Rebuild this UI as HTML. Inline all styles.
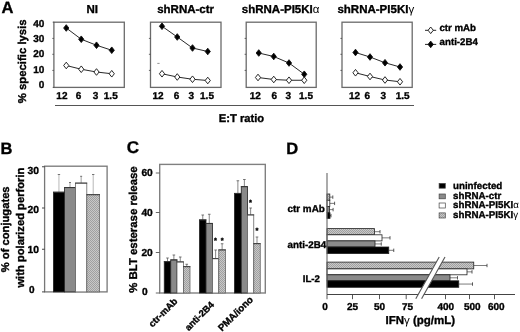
<!DOCTYPE html><html><head><meta charset="utf-8"><title>Figure</title>
<style>html,body{margin:0;padding:0;background:#fff;}svg{display:block;}text{font-family:"Liberation Sans", sans-serif;font-weight:bold;text-rendering:geometricPrecision;fill:#000;stroke:#000;stroke-width:0.35px;}.g{font-weight:normal;stroke:none;}</style></head><body>
<svg width="520" height="332" viewBox="0 0 520 332">
<defs><pattern id="h" width="2" height="2" patternUnits="userSpaceOnUse"><rect width="2" height="2" fill="#c8c8c8"/><rect width="1" height="1" fill="#a0a0a0"/><rect x="1" y="1" width="1" height="1" fill="#a0a0a0"/></pattern></defs>
<rect width="520" height="332" fill="#fff"/>
<text x="1.50" y="13.40" font-size="16.50" text-anchor="start" >A</text>
<text x="0.50" y="154.30" font-size="16.50" text-anchor="start" >B</text>
<text x="126.80" y="153.20" font-size="17.00" text-anchor="start" >C</text>
<text x="286.20" y="153.80" font-size="16.50" text-anchor="start" >D</text>
<rect x="53.90" y="22.20" width="70.40" height="65.20" fill="#fff" stroke="#6a6a6a" stroke-width="1.30"/>
<line x1="52.30" y1="38.40" x2="53.90" y2="38.40" stroke="#444" stroke-width="0.80"/>
<line x1="52.30" y1="54.30" x2="53.90" y2="54.30" stroke="#444" stroke-width="0.80"/>
<line x1="52.30" y1="70.40" x2="53.90" y2="70.40" stroke="#444" stroke-width="0.80"/>
<polyline points="66.25,28.00 81.25,39.25 96.50,45.25 111.75,50.25" fill="none" stroke="#111" stroke-width="0.9"/>
<polygon points="63.65,28.00 66.25,24.70 68.85,28.00 66.25,31.30" fill="#000" stroke="#111" stroke-width="0.9"/>
<polygon points="78.65,39.25 81.25,35.95 83.85,39.25 81.25,42.55" fill="#000" stroke="#111" stroke-width="0.9"/>
<polygon points="93.90,45.25 96.50,41.95 99.10,45.25 96.50,48.55" fill="#000" stroke="#111" stroke-width="0.9"/>
<polygon points="109.15,50.25 111.75,46.95 114.35,50.25 111.75,53.55" fill="#000" stroke="#111" stroke-width="0.9"/>
<polyline points="66.25,65.50 81.25,69.25 96.50,72.00 111.75,73.75" fill="none" stroke="#111" stroke-width="0.9"/>
<polygon points="63.65,65.50 66.25,62.20 68.85,65.50 66.25,68.80" fill="#fff" stroke="#111" stroke-width="0.9"/>
<polygon points="78.65,69.25 81.25,65.95 83.85,69.25 81.25,72.55" fill="#fff" stroke="#111" stroke-width="0.9"/>
<polygon points="93.90,72.00 96.50,68.70 99.10,72.00 96.50,75.30" fill="#fff" stroke="#111" stroke-width="0.9"/>
<polygon points="109.15,73.75 111.75,70.45 114.35,73.75 111.75,77.05" fill="#fff" stroke="#111" stroke-width="0.9"/>
<text x="92.20" y="12.60" font-size="11.50" text-anchor="middle" >NI</text>
<text x="61.90" y="99.40" font-size="10.00" text-anchor="middle" >12</text>
<text x="78.60" y="99.40" font-size="10.00" text-anchor="middle" >6</text>
<text x="95.60" y="99.40" font-size="10.00" text-anchor="middle" >3</text>
<text x="110.75" y="99.40" font-size="10.00" text-anchor="middle" >1.5</text>
<rect x="150.50" y="22.20" width="70.50" height="65.20" fill="#fff" stroke="#6a6a6a" stroke-width="1.30"/>
<line x1="148.90" y1="38.40" x2="150.50" y2="38.40" stroke="#444" stroke-width="0.80"/>
<line x1="148.90" y1="54.30" x2="150.50" y2="54.30" stroke="#444" stroke-width="0.80"/>
<line x1="148.90" y1="70.40" x2="150.50" y2="70.40" stroke="#444" stroke-width="0.80"/>
<polyline points="162.00,26.25 177.25,37.00 192.50,48.00 207.75,51.50" fill="none" stroke="#111" stroke-width="0.9"/>
<polygon points="159.40,26.25 162.00,22.95 164.60,26.25 162.00,29.55" fill="#000" stroke="#111" stroke-width="0.9"/>
<polygon points="174.65,37.00 177.25,33.70 179.85,37.00 177.25,40.30" fill="#000" stroke="#111" stroke-width="0.9"/>
<polygon points="189.90,48.00 192.50,44.70 195.10,48.00 192.50,51.30" fill="#000" stroke="#111" stroke-width="0.9"/>
<polygon points="205.15,51.50 207.75,48.20 210.35,51.50 207.75,54.80" fill="#000" stroke="#111" stroke-width="0.9"/>
<polyline points="162.00,73.75 177.25,77.00 192.50,79.25 207.75,80.50" fill="none" stroke="#111" stroke-width="0.9"/>
<polygon points="159.40,73.75 162.00,70.45 164.60,73.75 162.00,77.05" fill="#fff" stroke="#111" stroke-width="0.9"/>
<polygon points="174.65,77.00 177.25,73.70 179.85,77.00 177.25,80.30" fill="#fff" stroke="#111" stroke-width="0.9"/>
<polygon points="189.90,79.25 192.50,75.95 195.10,79.25 192.50,82.55" fill="#fff" stroke="#111" stroke-width="0.9"/>
<polygon points="205.15,80.50 207.75,77.20 210.35,80.50 207.75,83.80" fill="#fff" stroke="#111" stroke-width="0.9"/>
<text x="185.60" y="12.60" font-size="11.50" text-anchor="middle" >shRNA-ctr</text>
<text x="158.00" y="99.40" font-size="10.00" text-anchor="middle" >12</text>
<text x="176.50" y="99.40" font-size="10.00" text-anchor="middle" >6</text>
<text x="191.20" y="99.40" font-size="10.00" text-anchor="middle" >3</text>
<text x="207.00" y="99.40" font-size="10.00" text-anchor="middle" >1.5</text>
<rect x="246.20" y="22.20" width="70.00" height="65.20" fill="#fff" stroke="#6a6a6a" stroke-width="1.30"/>
<line x1="244.60" y1="38.40" x2="246.20" y2="38.40" stroke="#444" stroke-width="0.80"/>
<line x1="244.60" y1="54.30" x2="246.20" y2="54.30" stroke="#444" stroke-width="0.80"/>
<line x1="244.60" y1="70.40" x2="246.20" y2="70.40" stroke="#444" stroke-width="0.80"/>
<polyline points="258.75,53.00 273.75,56.50 289.00,63.00 304.25,74.25" fill="none" stroke="#111" stroke-width="0.9"/>
<polygon points="256.15,53.00 258.75,49.70 261.35,53.00 258.75,56.30" fill="#000" stroke="#111" stroke-width="0.9"/>
<polygon points="271.15,56.50 273.75,53.20 276.35,56.50 273.75,59.80" fill="#000" stroke="#111" stroke-width="0.9"/>
<polygon points="286.40,63.00 289.00,59.70 291.60,63.00 289.00,66.30" fill="#000" stroke="#111" stroke-width="0.9"/>
<polygon points="301.65,74.25 304.25,70.95 306.85,74.25 304.25,77.55" fill="#000" stroke="#111" stroke-width="0.9"/>
<polyline points="258.00,77.50 273.75,79.50 289.00,80.25 304.25,80.25" fill="none" stroke="#111" stroke-width="0.9"/>
<polygon points="255.40,77.50 258.00,74.20 260.60,77.50 258.00,80.80" fill="#fff" stroke="#111" stroke-width="0.9"/>
<polygon points="271.15,79.50 273.75,76.20 276.35,79.50 273.75,82.80" fill="#fff" stroke="#111" stroke-width="0.9"/>
<polygon points="286.40,80.25 289.00,76.95 291.60,80.25 289.00,83.55" fill="#fff" stroke="#111" stroke-width="0.9"/>
<polygon points="301.65,80.25 304.25,76.95 306.85,80.25 304.25,83.55" fill="#fff" stroke="#111" stroke-width="0.9"/>
<text x="280.60" y="12.60" font-size="11.50" text-anchor="middle" >shRNA-PI5KI<tspan class="g">&#945;</tspan></text>
<text x="255.30" y="99.40" font-size="10.00" text-anchor="middle" >12</text>
<text x="274.40" y="99.40" font-size="10.00" text-anchor="middle" >6</text>
<text x="288.40" y="99.40" font-size="10.00" text-anchor="middle" >3</text>
<text x="306.00" y="99.40" font-size="10.00" text-anchor="middle" >1.5</text>
<rect x="342.00" y="22.20" width="70.20" height="65.20" fill="#fff" stroke="#6a6a6a" stroke-width="1.30"/>
<line x1="340.40" y1="38.40" x2="342.00" y2="38.40" stroke="#444" stroke-width="0.80"/>
<line x1="340.40" y1="54.30" x2="342.00" y2="54.30" stroke="#444" stroke-width="0.80"/>
<line x1="340.40" y1="70.40" x2="342.00" y2="70.40" stroke="#444" stroke-width="0.80"/>
<polyline points="355.50,52.50 370.00,57.00 385.00,62.75 400.00,67.00" fill="none" stroke="#111" stroke-width="0.9"/>
<polygon points="352.90,52.50 355.50,49.20 358.10,52.50 355.50,55.80" fill="#000" stroke="#111" stroke-width="0.9"/>
<polygon points="367.40,57.00 370.00,53.70 372.60,57.00 370.00,60.30" fill="#000" stroke="#111" stroke-width="0.9"/>
<polygon points="382.40,62.75 385.00,59.45 387.60,62.75 385.00,66.05" fill="#000" stroke="#111" stroke-width="0.9"/>
<polygon points="397.40,67.00 400.00,63.70 402.60,67.00 400.00,70.30" fill="#000" stroke="#111" stroke-width="0.9"/>
<polyline points="355.50,72.75 370.00,76.50 385.00,80.00 400.00,81.75" fill="none" stroke="#111" stroke-width="0.9"/>
<polygon points="352.90,72.75 355.50,69.45 358.10,72.75 355.50,76.05" fill="#fff" stroke="#111" stroke-width="0.9"/>
<polygon points="367.40,76.50 370.00,73.20 372.60,76.50 370.00,79.80" fill="#fff" stroke="#111" stroke-width="0.9"/>
<polygon points="382.40,80.00 385.00,76.70 387.60,80.00 385.00,83.30" fill="#fff" stroke="#111" stroke-width="0.9"/>
<polygon points="397.40,81.75 400.00,78.45 402.60,81.75 400.00,85.05" fill="#fff" stroke="#111" stroke-width="0.9"/>
<text x="375.80" y="12.60" font-size="11.50" text-anchor="middle" >shRNA-PI5KI<tspan class="g">&#947;</tspan></text>
<text x="354.50" y="99.40" font-size="10.00" text-anchor="middle" >12</text>
<text x="367.40" y="99.40" font-size="10.00" text-anchor="middle" >6</text>
<text x="383.20" y="99.40" font-size="10.00" text-anchor="middle" >3</text>
<text x="402.70" y="99.40" font-size="10.00" text-anchor="middle" >1.5</text>
<line x1="52.70" y1="22.20" x2="54.30" y2="22.20" stroke="#444" stroke-width="0.80"/>
<line x1="52.70" y1="87.40" x2="54.30" y2="87.40" stroke="#444" stroke-width="0.80"/>
<line x1="157.30" y1="63.40" x2="159.60" y2="63.40" stroke="#777" stroke-width="0.80"/>
<text x="44.40" y="26.80" font-size="10.00" text-anchor="end" >40</text>
<text x="44.40" y="41.70" font-size="10.00" text-anchor="end" >30</text>
<text x="44.40" y="57.40" font-size="10.00" text-anchor="end" >20</text>
<text x="44.40" y="73.40" font-size="10.00" text-anchor="end" >10</text>
<text x="44.40" y="87.90" font-size="10.00" text-anchor="end" >0</text>
<text transform="translate(25.60 61.30) rotate(-90)" font-size="11.35" text-anchor="middle">% specific lysis</text>
<line x1="55.00" y1="105.50" x2="414.00" y2="105.50" stroke="#555" stroke-width="1.00"/>
<text x="218.80" y="121.60" font-size="11.20" text-anchor="start" >E:T ratio</text>
<line x1="425.00" y1="30.30" x2="436.20" y2="30.30" stroke="#111" stroke-width="0.90"/>
<polygon points="428.10,30.30 430.70,27.00 433.30,30.30 430.70,33.60" fill="#fff" stroke="#111" stroke-width="0.9"/>
<line x1="425.00" y1="44.40" x2="436.20" y2="44.40" stroke="#111" stroke-width="0.90"/>
<polygon points="428.10,44.40 430.70,41.10 433.30,44.40 430.70,47.70" fill="#000" stroke="#111" stroke-width="0.9"/>
<text x="439.40" y="31.40" font-size="9.70" text-anchor="start" >ctr mAb</text>
<text x="439.60" y="45.40" font-size="9.70" text-anchor="start" >anti-2B4</text>
<rect x="44.60" y="166.20" width="62.50" height="125.70" fill="#fff" stroke="#777" stroke-width="1.30"/>
<line x1="58.95" y1="174.50" x2="58.95" y2="192.20" stroke="#999" stroke-width="0.70"/>
<line x1="57.75" y1="174.50" x2="60.15" y2="174.50" stroke="#555" stroke-width="0.80"/>
<rect x="53.40" y="192.20" width="11.10" height="99.70" fill="#000" stroke="#222" stroke-width="0.80"/>
<line x1="53.00" y1="192.20" x2="64.90" y2="192.20" stroke="#333" stroke-width="0.90"/>
<line x1="70.00" y1="182.50" x2="70.00" y2="187.60" stroke="#777" stroke-width="0.70"/>
<line x1="69.00" y1="182.50" x2="71.00" y2="182.50" stroke="#555" stroke-width="0.80"/>
<rect x="64.50" y="187.60" width="11.00" height="104.30" fill="#8a8a8a" stroke="#222" stroke-width="0.80"/>
<line x1="64.10" y1="187.60" x2="75.90" y2="187.60" stroke="#333" stroke-width="0.90"/>
<line x1="81.15" y1="176.30" x2="81.15" y2="183.10" stroke="#777" stroke-width="0.70"/>
<line x1="80.15" y1="176.30" x2="82.15" y2="176.30" stroke="#555" stroke-width="0.80"/>
<rect x="75.50" y="183.10" width="11.30" height="108.80" fill="#fff" stroke="#666" stroke-width="0.80"/>
<line x1="75.10" y1="183.10" x2="87.20" y2="183.10" stroke="#333" stroke-width="0.90"/>
<line x1="93.20" y1="174.50" x2="93.20" y2="194.70" stroke="#999" stroke-width="0.70"/>
<line x1="92.00" y1="174.50" x2="94.40" y2="174.50" stroke="#555" stroke-width="0.80"/>
<rect x="86.80" y="194.70" width="12.80" height="97.20" fill="url(#h)" stroke="#666" stroke-width="0.80"/>
<line x1="86.40" y1="194.70" x2="100.00" y2="194.70" stroke="#333" stroke-width="0.90"/>
<line x1="42.00" y1="166.75" x2="44.60" y2="166.75" stroke="#333" stroke-width="0.90"/>
<line x1="42.00" y1="208.00" x2="44.60" y2="208.00" stroke="#333" stroke-width="0.90"/>
<line x1="42.00" y1="249.25" x2="44.60" y2="249.25" stroke="#333" stroke-width="0.90"/>
<line x1="42.00" y1="291.90" x2="44.60" y2="291.90" stroke="#333" stroke-width="0.90"/>
<text x="38.90" y="174.00" font-size="10.30" text-anchor="end" >30</text>
<text x="38.90" y="213.00" font-size="10.30" text-anchor="end" >20</text>
<text x="38.90" y="252.80" font-size="10.30" text-anchor="end" >10</text>
<text x="34.50" y="293.40" font-size="10.00" text-anchor="end" >0</text>
<text transform="translate(9.40 229.30) rotate(-90)" font-size="11.20" text-anchor="middle">% of conjugates</text>
<text transform="translate(23.60 227.60) rotate(-90)" font-size="11.20" text-anchor="middle">with polarized perforin</text>
<rect x="159.70" y="164.40" width="105.60" height="128.60" fill="#fff" stroke="#808080" stroke-width="1.40"/>
<line x1="167.50" y1="258.00" x2="167.50" y2="261.65" stroke="#555" stroke-width="0.70"/>
<line x1="166.20" y1="258.00" x2="168.80" y2="258.00" stroke="#555" stroke-width="0.80"/>
<rect x="164.25" y="261.65" width="6.50" height="31.35" fill="#000" stroke="#222" stroke-width="0.80"/>
<line x1="163.85" y1="261.65" x2="171.15" y2="261.65" stroke="#333" stroke-width="0.90"/>
<line x1="173.88" y1="255.00" x2="173.88" y2="259.90" stroke="#555" stroke-width="0.70"/>
<line x1="172.57" y1="255.00" x2="175.18" y2="255.00" stroke="#555" stroke-width="0.80"/>
<rect x="170.75" y="259.90" width="6.25" height="33.10" fill="#8a8a8a" stroke="#222" stroke-width="0.80"/>
<line x1="170.35" y1="259.90" x2="177.40" y2="259.90" stroke="#333" stroke-width="0.90"/>
<line x1="180.25" y1="257.00" x2="180.25" y2="261.90" stroke="#555" stroke-width="0.70"/>
<line x1="178.95" y1="257.00" x2="181.55" y2="257.00" stroke="#555" stroke-width="0.80"/>
<rect x="177.00" y="261.90" width="6.50" height="31.10" fill="#fff" stroke="#666" stroke-width="0.80"/>
<line x1="176.60" y1="261.90" x2="183.90" y2="261.90" stroke="#333" stroke-width="0.90"/>
<line x1="186.75" y1="264.25" x2="186.75" y2="266.65" stroke="#555" stroke-width="0.70"/>
<line x1="185.45" y1="264.25" x2="188.05" y2="264.25" stroke="#555" stroke-width="0.80"/>
<rect x="183.50" y="266.65" width="6.50" height="26.35" fill="url(#h)" stroke="#666" stroke-width="0.80"/>
<line x1="183.10" y1="266.65" x2="190.40" y2="266.65" stroke="#333" stroke-width="0.90"/>
<line x1="202.75" y1="215.00" x2="202.75" y2="219.90" stroke="#555" stroke-width="0.70"/>
<line x1="201.45" y1="215.00" x2="204.05" y2="215.00" stroke="#555" stroke-width="0.80"/>
<rect x="199.50" y="219.90" width="6.50" height="73.10" fill="#000" stroke="#222" stroke-width="0.80"/>
<line x1="199.10" y1="219.90" x2="206.40" y2="219.90" stroke="#333" stroke-width="0.90"/>
<line x1="209.25" y1="214.25" x2="209.25" y2="223.40" stroke="#555" stroke-width="0.70"/>
<line x1="207.95" y1="214.25" x2="210.55" y2="214.25" stroke="#555" stroke-width="0.80"/>
<rect x="206.00" y="223.40" width="6.50" height="69.60" fill="#8a8a8a" stroke="#222" stroke-width="0.80"/>
<line x1="205.60" y1="223.40" x2="212.90" y2="223.40" stroke="#333" stroke-width="0.90"/>
<line x1="215.62" y1="250.00" x2="215.62" y2="258.65" stroke="#555" stroke-width="0.70"/>
<line x1="214.32" y1="250.00" x2="216.93" y2="250.00" stroke="#555" stroke-width="0.80"/>
<rect x="212.50" y="258.65" width="6.25" height="34.35" fill="#fff" stroke="#666" stroke-width="0.80"/>
<line x1="212.10" y1="258.65" x2="219.15" y2="258.65" stroke="#333" stroke-width="0.90"/>
<line x1="222.12" y1="243.75" x2="222.12" y2="249.90" stroke="#555" stroke-width="0.70"/>
<line x1="220.82" y1="243.75" x2="223.43" y2="243.75" stroke="#555" stroke-width="0.80"/>
<rect x="218.75" y="249.90" width="6.75" height="43.10" fill="url(#h)" stroke="#666" stroke-width="0.80"/>
<line x1="218.35" y1="249.90" x2="225.90" y2="249.90" stroke="#333" stroke-width="0.90"/>
<line x1="237.88" y1="180.75" x2="237.88" y2="193.40" stroke="#555" stroke-width="0.70"/>
<line x1="236.57" y1="180.75" x2="239.18" y2="180.75" stroke="#555" stroke-width="0.80"/>
<rect x="234.50" y="193.40" width="6.75" height="99.60" fill="#000" stroke="#222" stroke-width="0.80"/>
<line x1="234.10" y1="193.40" x2="241.65" y2="193.40" stroke="#333" stroke-width="0.90"/>
<line x1="244.38" y1="179.50" x2="244.38" y2="186.65" stroke="#555" stroke-width="0.70"/>
<line x1="243.07" y1="179.50" x2="245.68" y2="179.50" stroke="#555" stroke-width="0.80"/>
<rect x="241.25" y="186.65" width="6.25" height="106.35" fill="#8a8a8a" stroke="#222" stroke-width="0.80"/>
<line x1="240.85" y1="186.65" x2="247.90" y2="186.65" stroke="#333" stroke-width="0.90"/>
<line x1="250.62" y1="208.00" x2="250.62" y2="214.90" stroke="#555" stroke-width="0.70"/>
<line x1="249.32" y1="208.00" x2="251.93" y2="208.00" stroke="#555" stroke-width="0.80"/>
<rect x="247.50" y="214.90" width="6.25" height="78.10" fill="#fff" stroke="#666" stroke-width="0.80"/>
<line x1="247.10" y1="214.90" x2="254.15" y2="214.90" stroke="#333" stroke-width="0.90"/>
<line x1="257.00" y1="237.00" x2="257.00" y2="243.65" stroke="#555" stroke-width="0.70"/>
<line x1="255.70" y1="237.00" x2="258.30" y2="237.00" stroke="#555" stroke-width="0.80"/>
<rect x="253.75" y="243.65" width="6.50" height="49.35" fill="url(#h)" stroke="#666" stroke-width="0.80"/>
<line x1="253.35" y1="243.65" x2="260.65" y2="243.65" stroke="#333" stroke-width="0.90"/>
<line x1="155.80" y1="173.00" x2="159.70" y2="173.00" stroke="#555" stroke-width="0.90"/>
<line x1="155.80" y1="212.50" x2="159.70" y2="212.50" stroke="#555" stroke-width="0.90"/>
<line x1="155.80" y1="252.50" x2="159.70" y2="252.50" stroke="#555" stroke-width="0.90"/>
<line x1="155.80" y1="293.00" x2="159.70" y2="293.00" stroke="#555" stroke-width="0.90"/>
<text x="152.80" y="176.30" font-size="10.20" text-anchor="end" >60</text>
<text x="152.80" y="215.60" font-size="10.20" text-anchor="end" >40</text>
<text x="152.80" y="256.00" font-size="10.20" text-anchor="end" >20</text>
<text x="147.70" y="295.00" font-size="10.20" text-anchor="end" >0</text>
<text transform="translate(136.60 229.50) rotate(-90)" font-size="11.40" text-anchor="middle">% BLT esterase release</text>
<text x="215.50" y="242.70" font-size="7.50" text-anchor="middle" >*</text>
<text x="222.20" y="242.70" font-size="7.50" text-anchor="middle" >*</text>
<text x="250.50" y="205.00" font-size="7.50" text-anchor="middle" >*</text>
<text x="257.00" y="232.70" font-size="7.50" text-anchor="middle" >*</text>
<text transform="translate(178.20 301.90) rotate(-45)" font-size="9.50" text-anchor="end">ctr-mAb</text>
<text transform="translate(214.60 305.30) rotate(-45)" font-size="9.30" text-anchor="end">anti-2B4</text>
<text transform="translate(253.60 300.20) rotate(-45)" font-size="9.70" text-anchor="end">PMA/iono</text>
<line x1="329.80" y1="197.12" x2="332.80" y2="197.12" stroke="#444" stroke-width="0.70"/>
<line x1="332.80" y1="195.43" x2="332.80" y2="198.82" stroke="#333" stroke-width="0.80"/>
<rect x="327.00" y="194.00" width="2.80" height="6.25" fill="url(#h)" stroke="#222" stroke-width="0.80"/>
<line x1="329.80" y1="203.38" x2="334.60" y2="203.38" stroke="#444" stroke-width="0.70"/>
<line x1="334.60" y1="201.68" x2="334.60" y2="205.07" stroke="#333" stroke-width="0.80"/>
<rect x="327.00" y="200.25" width="2.80" height="6.25" fill="#fff" stroke="#222" stroke-width="0.80"/>
<line x1="329.40" y1="209.62" x2="333.10" y2="209.62" stroke="#444" stroke-width="0.70"/>
<line x1="333.10" y1="207.93" x2="333.10" y2="211.32" stroke="#333" stroke-width="0.80"/>
<rect x="327.00" y="206.50" width="2.40" height="6.25" fill="#8a8a8a" stroke="#222" stroke-width="0.80"/>
<line x1="330.00" y1="215.62" x2="331.00" y2="215.62" stroke="#444" stroke-width="0.70"/>
<line x1="331.00" y1="213.93" x2="331.00" y2="217.32" stroke="#333" stroke-width="0.80"/>
<rect x="327.00" y="212.75" width="3.00" height="5.75" fill="#000" stroke="#222" stroke-width="0.80"/>
<line x1="374.50" y1="231.70" x2="380.00" y2="231.70" stroke="#444" stroke-width="0.70"/>
<line x1="380.00" y1="230.00" x2="380.00" y2="233.40" stroke="#333" stroke-width="0.80"/>
<rect x="327.00" y="228.60" width="47.50" height="6.20" fill="url(#h)" stroke="#222" stroke-width="0.80"/>
<line x1="382.00" y1="237.85" x2="390.00" y2="237.85" stroke="#444" stroke-width="0.70"/>
<line x1="390.00" y1="236.15" x2="390.00" y2="239.55" stroke="#333" stroke-width="0.80"/>
<rect x="327.00" y="234.80" width="55.00" height="6.10" fill="#fff" stroke="#222" stroke-width="0.80"/>
<line x1="375.00" y1="243.95" x2="381.25" y2="243.95" stroke="#444" stroke-width="0.70"/>
<line x1="381.25" y1="242.25" x2="381.25" y2="245.65" stroke="#333" stroke-width="0.80"/>
<rect x="327.00" y="240.90" width="48.00" height="6.10" fill="#8a8a8a" stroke="#222" stroke-width="0.80"/>
<line x1="388.75" y1="250.30" x2="393.75" y2="250.30" stroke="#444" stroke-width="0.70"/>
<line x1="393.75" y1="248.60" x2="393.75" y2="252.00" stroke="#333" stroke-width="0.80"/>
<rect x="327.00" y="247.00" width="61.75" height="6.60" fill="#000" stroke="#222" stroke-width="0.80"/>
<line x1="473.75" y1="265.50" x2="487.00" y2="265.50" stroke="#444" stroke-width="0.70"/>
<line x1="487.00" y1="263.80" x2="487.00" y2="267.20" stroke="#333" stroke-width="0.80"/>
<rect x="327.00" y="262.10" width="146.75" height="6.80" fill="url(#h)" stroke="#222" stroke-width="0.80"/>
<line x1="467.00" y1="271.85" x2="472.00" y2="271.85" stroke="#444" stroke-width="0.70"/>
<line x1="472.00" y1="270.15" x2="472.00" y2="273.55" stroke="#333" stroke-width="0.80"/>
<rect x="327.00" y="268.90" width="140.00" height="5.90" fill="#fff" stroke="#222" stroke-width="0.80"/>
<line x1="450.00" y1="277.80" x2="457.50" y2="277.80" stroke="#444" stroke-width="0.70"/>
<line x1="457.50" y1="276.10" x2="457.50" y2="279.50" stroke="#333" stroke-width="0.80"/>
<rect x="327.00" y="274.80" width="123.00" height="6.00" fill="#8a8a8a" stroke="#222" stroke-width="0.80"/>
<line x1="458.75" y1="284.05" x2="472.50" y2="284.05" stroke="#444" stroke-width="0.70"/>
<line x1="472.50" y1="282.35" x2="472.50" y2="285.75" stroke="#333" stroke-width="0.80"/>
<rect x="327.00" y="280.80" width="131.75" height="6.50" fill="#000" stroke="#222" stroke-width="0.80"/>
<line x1="327.00" y1="173.00" x2="327.00" y2="299.20" stroke="#666" stroke-width="1.10"/>
<line x1="327.00" y1="294.50" x2="515.00" y2="294.50" stroke="#444" stroke-width="1.00"/>
<polygon points="415.8,298.8 421.6,298.8 445,257 439.2,257" fill="#fff"/>
<line x1="415.80" y1="298.80" x2="439.20" y2="257.00" stroke="#555" stroke-width="1.10"/>
<line x1="421.60" y1="298.80" x2="445.00" y2="257.00" stroke="#555" stroke-width="1.10"/>
<line x1="352.50" y1="294.50" x2="352.50" y2="299.20" stroke="#444" stroke-width="0.90"/>
<line x1="379.50" y1="294.50" x2="379.50" y2="299.20" stroke="#444" stroke-width="0.90"/>
<line x1="406.20" y1="294.50" x2="406.20" y2="299.20" stroke="#444" stroke-width="0.90"/>
<line x1="445.50" y1="294.50" x2="445.50" y2="299.20" stroke="#444" stroke-width="0.90"/>
<line x1="469.50" y1="294.50" x2="469.50" y2="299.20" stroke="#444" stroke-width="0.90"/>
<line x1="494.50" y1="294.50" x2="494.50" y2="299.20" stroke="#444" stroke-width="0.90"/>
<text x="325.00" y="310.00" font-size="10.00" text-anchor="middle" >0</text>
<text x="352.50" y="310.00" font-size="10.00" text-anchor="middle" >25</text>
<text x="379.50" y="310.00" font-size="10.00" text-anchor="middle" >50</text>
<text x="407.50" y="310.00" font-size="10.00" text-anchor="middle" >75</text>
<text x="445.80" y="310.00" font-size="10.00" text-anchor="middle" >400</text>
<text x="472.30" y="310.00" font-size="10.00" text-anchor="middle" >500</text>
<text x="496.30" y="310.00" font-size="10.00" text-anchor="middle" >600</text>
<text x="385.50" y="324.20" font-size="11.50" text-anchor="start" >IFN<tspan class="g">&#947;</tspan> (pg/mL)</text>
<text x="324.80" y="211.90" font-size="9.90" text-anchor="end" >ctr mAb</text>
<text x="326.20" y="248.20" font-size="9.80" text-anchor="end" >anti-2B4</text>
<text x="320.00" y="281.50" font-size="9.70" text-anchor="end" >IL-2</text>
<rect x="439.10" y="183.40" width="6.20" height="4.80" fill="#000" stroke="#444" stroke-width="0.70"/>
<rect x="439.10" y="194.00" width="6.20" height="4.80" fill="#8a8a8a" stroke="#444" stroke-width="0.70"/>
<rect x="439.10" y="203.00" width="6.20" height="5.00" fill="#fff" stroke="#444" stroke-width="0.70"/>
<rect x="439.10" y="212.90" width="6.20" height="5.10" fill="url(#h)" stroke="#444" stroke-width="0.70"/>
<text x="453.00" y="188.70" font-size="9.75" text-anchor="start" >uninfected</text>
<text x="453.00" y="198.70" font-size="9.75" text-anchor="start" >shRNA-ctr</text>
<text x="453.00" y="208.20" font-size="9.75" text-anchor="start" >shRNA-PI5KI<tspan class="g">&#945;</tspan></text>
<text x="453.00" y="217.60" font-size="9.75" text-anchor="start" >shRNA-PI5KI<tspan class="g">&#947;</tspan></text>
</svg></body></html>
